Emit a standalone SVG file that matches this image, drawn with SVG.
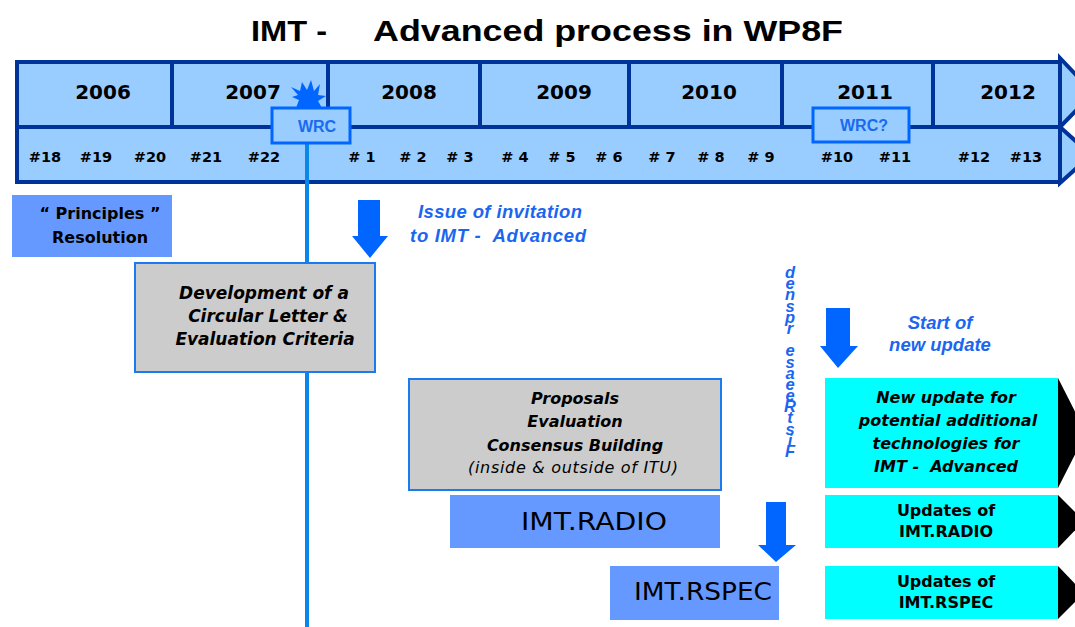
<svg xmlns="http://www.w3.org/2000/svg" width="1075" height="627" viewBox="0 0 1075 627">
<defs>
<style>
.nav{fill:#99CCFF;stroke:#003399;stroke-width:4}
.div{stroke:#003399;stroke-width:4}
.yr{font-family:"DejaVu Sans",sans-serif;font-weight:bold;font-size:20px;fill:#000;text-anchor:middle}
.mt{font-family:"DejaVu Sans",sans-serif;font-weight:bold;font-size:14.5px;fill:#000;text-anchor:middle}
.wrcbox{fill:#99CCFF;stroke:#0066FF;stroke-width:3}
.wrc{font-family:"Liberation Sans",Arial,sans-serif;font-weight:bold;font-size:16px;fill:#1A6AF0;text-anchor:middle}
.blue{fill:#6699FF}
.gray{fill:#CCCCCC;stroke:#1A7AF0;stroke-width:2}
.cyan{fill:#00FFFF}
.tri{fill:#000}
.arrow{fill:#0066FF}
.bl{font-family:"DejaVu Sans",sans-serif;font-weight:bold;font-size:16px;fill:#000;text-anchor:middle}
.it{font-family:"DejaVu Sans",sans-serif;font-weight:bold;font-style:italic;font-size:16px;fill:#000;text-anchor:middle}
.it17{font-family:"DejaVu Sans",sans-serif;font-weight:bold;font-style:italic;font-size:17px;fill:#000;text-anchor:middle}
.sm{font-family:"DejaVu Sans",sans-serif;font-style:italic;font-size:16px;fill:#000;text-anchor:middle}
.big{font-family:"DejaVu Sans",sans-serif;font-size:25px;fill:#000;text-anchor:middle}
.note{font-family:"Liberation Sans",Arial,sans-serif;font-weight:bold;font-style:italic;font-size:18.5px;fill:#1A66F0}
.vert{font-family:"Liberation Sans",Arial,sans-serif;font-weight:bold;font-style:italic;font-size:16.5px;fill:#1A66F0;writing-mode:vertical-rl;text-orientation:upright}
.title{font-family:"Liberation Sans",Arial,sans-serif;font-weight:bold;font-size:30px;fill:#000}
</style>
</defs>
<rect width="1075" height="627" fill="#fff"/>
<g id="title">
<text class="title" x="251" y="41" textLength="76" lengthAdjust="spacingAndGlyphs">IMT -</text>
<text class="title" x="373" y="41" textLength="470" lengthAdjust="spacingAndGlyphs">Advanced process in WP8F</text>
</g>
<g id="timeline">
<polygon class="nav" points="1060,58 1093,93 1060,127"/>
<polygon class="nav" points="1060,127 1091,155 1060,183"/>
<rect class="nav" x="17" y="62" width="1043" height="120"/>
<line class="div" x1="17" y1="127" x2="1060" y2="127"/>
<line class="div" x1="172" y1="62" x2="172" y2="127"/>
<line class="div" x1="328" y1="62" x2="328" y2="127"/>
<line class="div" x1="480" y1="62" x2="480" y2="127"/>
<line class="div" x1="629" y1="62" x2="629" y2="127"/>
<line class="div" x1="782" y1="62" x2="782" y2="127"/>
<line class="div" x1="933" y1="62" x2="933" y2="127"/>
<text class="yr" x="103" y="99">2006</text>
<text class="yr" x="253" y="99">2007</text>
<text class="yr" x="409" y="99">2008</text>
<text class="yr" x="564" y="99">2009</text>
<text class="yr" x="709" y="99">2010</text>
<text class="yr" x="865" y="99">2011</text>
<text class="yr" x="1008" y="99">2012</text>
<text class="mt" x="45" y="162">#18</text>
<text class="mt" x="96" y="162">#19</text>
<text class="mt" x="150" y="162">#20</text>
<text class="mt" x="206" y="162">#21</text>
<text class="mt" x="264" y="162">#22</text>
<text class="mt" x="362" y="162"># 1</text>
<text class="mt" x="413" y="162"># 2</text>
<text class="mt" x="460" y="162"># 3</text>
<text class="mt" x="515" y="162"># 4</text>
<text class="mt" x="562" y="162"># 5</text>
<text class="mt" x="609" y="162"># 6</text>
<text class="mt" x="662" y="162"># 7</text>
<text class="mt" x="711" y="162"># 8</text>
<text class="mt" x="761" y="162"># 9</text>
<text class="mt" x="837" y="162">#10</text>
<text class="mt" x="895" y="162">#11</text>
<text class="mt" x="974" y="162">#12</text>
<text class="mt" x="1026" y="162">#13</text>
</g>
<g id="connectors">
<line x1="307" y1="143" x2="307" y2="627" stroke="#0A88EA" stroke-width="4"/>
<polygon class="arrow" points="358,200 380,200 380,236 388,236 370,258 352,236 358,236"/>
<polygon class="arrow" points="826,308 850,308 850,346 858,346 838,368 820,346 826,346"/>
<polygon class="arrow" points="766,502 786,502 786,545 796,545 776,562 758,545 766,545"/>
</g>
<g id="wrc">
<polygon fill="#0066FF" points="291,87 300,91 302,82 307,90 311,80 314,91 320,84 318,95 326,96 318,101 322,108 296,108 299,100 292,97 298,95"/>
<rect class="wrcbox" x="272" y="108" width="78" height="35"/>
<text class="wrc" x="317" y="132">WRC</text>
</g>
<g id="wrc2">
<rect class="wrcbox" x="813" y="108" width="96" height="34"/>
<text class="wrc" x="864" y="131">WRC?</text>
</g>
<g id="principles">
<rect class="blue" x="12" y="195" width="160" height="62"/>
<text class="bl" x="100" y="219">“ Principles ”</text>
<text class="bl" x="100" y="243">Resolution</text>
</g>
<g id="invitation">
<text class="note" x="418" y="218" textLength="164" lengthAdjust="spacing">Issue of invitation</text>
<text class="note" x="410" y="242" xml:space="preserve" textLength="176" lengthAdjust="spacing">to IMT -  Advanced</text>
</g>
<g id="development">
<rect class="gray" x="135" y="263" width="240" height="109"/>
<text class="it17" x="264" y="299">Development of a</text>
<text class="it17" x="268" y="322">Circular Letter &amp;</text>
<text class="it17" x="265" y="345">Evaluation Criteria</text>
</g>
<g id="firstrelease">
<text class="vert" x="790" y="263" xml:space="preserve" textLength="197" lengthAdjust="spacing">denspr esaeeRtsiF</text>
</g>
<g id="startupdate">
<text class="note" x="940" y="329" text-anchor="middle">Start of</text>
<text class="note" x="940" y="351" text-anchor="middle">new update</text>
</g>
<g id="proposals">
<rect class="gray" x="409" y="379" width="312" height="111"/>
<text class="it" x="575" y="404">Proposals</text>
<text class="it" x="575" y="427">Evaluation</text>
<text class="it" x="575" y="451">Consensus Building</text>
<text class="sm" x="573" y="473" textLength="210" lengthAdjust="spacing">(inside &amp; outside of ITU)</text>
</g>
<g id="imtradio">
<rect class="blue" x="450" y="495" width="270" height="53"/>
<text class="big" x="594" y="530" textLength="146" lengthAdjust="spacingAndGlyphs">IMT.RADIO</text>
</g>
<g id="imtrspec">
<rect class="blue" x="610" y="566" width="169" height="54"/>
<text class="big" x="703" y="600" textLength="138" lengthAdjust="spacingAndGlyphs">IMT.RSPEC</text>
</g>
<g id="newupdate">
<rect class="cyan" x="825" y="378" width="233" height="110"/>
<polygon class="tri" points="1058,378 1086,433 1058,488"/>
<text class="it" x="946" y="403">New update for</text>
<text class="it" x="948" y="426">potential additional</text>
<text class="it" x="946" y="449">technologies for</text>
<text class="it" x="946" y="472" xml:space="preserve">IMT -  Advanced</text>
</g>
<g id="updradio">
<rect class="cyan" x="825" y="495" width="233" height="53"/>
<polygon class="tri" points="1058,495 1084,521 1058,548"/>
<text class="bl" x="946" y="516">Updates of</text>
<text class="bl" x="946" y="537">IMT.RADIO</text>
</g>
<g id="updrspec">
<rect class="cyan" x="825" y="566" width="233" height="53"/>
<polygon class="tri" points="1058,566 1084,593 1058,619"/>
<text class="bl" x="946" y="587">Updates of</text>
<text class="bl" x="946" y="608">IMT.RSPEC</text>
</g>
</svg>
